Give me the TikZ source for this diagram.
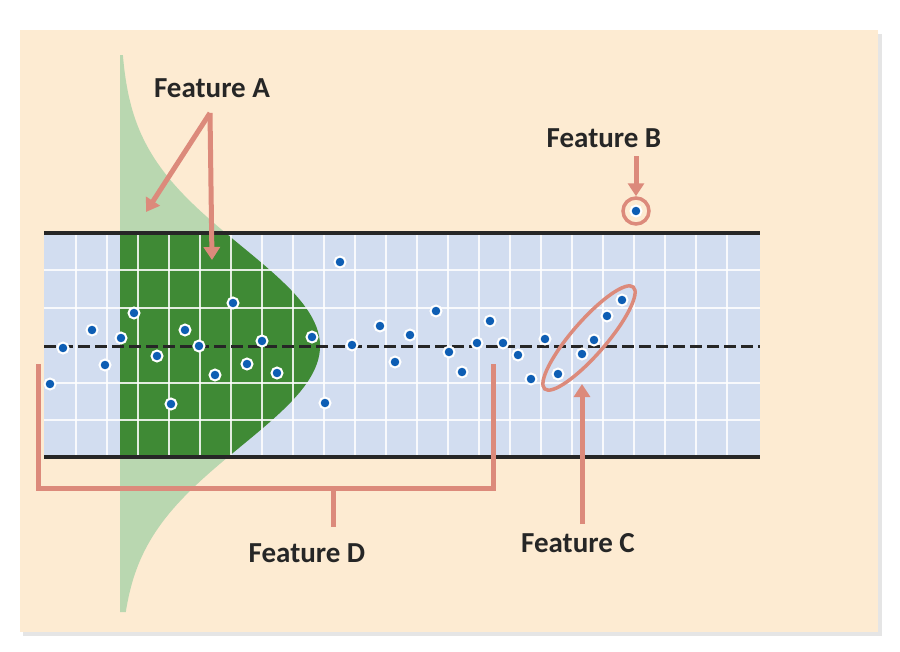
\documentclass[tikz,border=0pt]{standalone}
\usepackage{fontspec}
\setmainfont{Carlito}
\usetikzlibrary{arrows.meta,shapes.geometric}
\begin{document}
\begin{tikzpicture}[x=1pt,y=-1pt,
  lab/.style={font=\bfseries\fontsize{29}{31}\selectfont, text=black!85},
  arr/.style={draw=salmon, line width=5pt, -{Triangle[length=13pt,width=16pt]}},
  brk/.style={draw=salmon, line width=5pt},
  dot/.style={circle, fill=dotblue, draw=white, line width=2pt, inner sep=0pt, minimum size=11pt}]
\definecolor{beige}{HTML}{FDEBD2}
\definecolor{bandblue}{HTML}{D2DDF0}
\definecolor{lgreen}{HTML}{B9D7B0}
\definecolor{dgreen}{HTML}{3F8A35}
\definecolor{salmon}{HTML}{DC8A7B}
\definecolor{dotblue}{HTML}{0E5EB4}
\useasboundingbox (0,0) rectangle (900,651);
\fill[white] (0,0) rectangle (900,651);
\fill[black!10] (23,34) rectangle (882,636);
\fill[beige] (20,30) rectangle (878,632);
% light gaussian
\fill[lgreen] (120,55) -- plot[domain=55:612,samples=120,variable=\t] ({120+200*exp(-0.5*((\t-346)/100)^2)},\t) -- (120,612) -- cycle;
% band
\fill[bandblue] (44,233) rectangle (760,457);
\begin{scope}
\clip (44,233) rectangle (760,457);
\fill[dgreen] (120,55) -- plot[domain=55:612,samples=120,variable=\t] ({120+200*exp(-0.5*((\t-346)/100)^2)},\t) -- (120,612) -- cycle;
\end{scope}
\foreach \x in {76,107,138,169,200,231,262,293,324,355,386,417,448,479,510,541,572,603,634,665,696,727}
  \draw[white, line width=1.3pt, opacity=0.85] (\x,233) -- (\x,457);
\foreach \y in {270,308,383,420}
  \draw[white, line width=1.3pt, opacity=0.85] (44,\y) -- (760,\y);
\draw[black!85, line width=3pt, dash pattern=on 12pt off 5pt] (44,346) -- (760,346);
\draw[black!85, line width=3.5pt] (44,233) -- (760,233);
\draw[black!85, line width=3.5pt] (44,457) -- (760,457);
% dots
\foreach \x/\y [count=\i] in {50/384,63/348,92/330,105/365,121/338,134/313,157/356,171/404,185/330,199/346,215/375,233/303,247/364,262/341,277/373,312/337,325/403,340/262,352/345,380/326,395/362,410/335,436/311,449/352,462/372,477/343,490/321,503/343,518/355,531/379,545/339,558/374,582/354,594/340,607/316,622/300,636/211}
  \node[dot] (d\i) at (\x,\y) {};
% Feature B
\node[circle, draw=salmon, line width=3.5pt, minimum size=26pt, inner sep=0pt] (cb) at (636,211) {};
\node[lab] (fb) at (604,138) {Feature B};
\coordinate (fbs) at (636,156);
\draw[arr] (fbs) -- (cb);
% Feature C
\node[ellipse, draw=salmon, line width=3.5pt, minimum width=135pt, minimum height=34pt, rotate=49, inner sep=0pt] (ec) at (589,338) {};
\node[lab] (fc) at (578,543) {Feature C};
\coordinate (fcs) at (582,524);
\coordinate (fce) at (582,384);
\draw[arr] (fcs) -- (fce);
% Feature A
\node[lab] (fa) at (212,88) {Feature A};
\coordinate (fa0) at (210,113);
\coordinate (fa1) at (146,212);
\coordinate (fa2) at (212,260);
\draw[arr] (fa0) -- (fa1);
\draw[arr] (fa0) -- (fa2);
% Feature D
\coordinate (b1) at (38,364);
\coordinate (b2) at (38,488);
\coordinate (b3) at (493,488);
\coordinate (b4) at (493,364);
\coordinate (bm) at (333,488);
\coordinate (bt) at (333,527);
\draw[brk] (b1) -- (b2) -- (b3) -- (b4);
\draw[brk] (bm) -- (bt);
\node[lab] (fd) at (307,553) {Feature D};
\end{tikzpicture}
\end{document}
